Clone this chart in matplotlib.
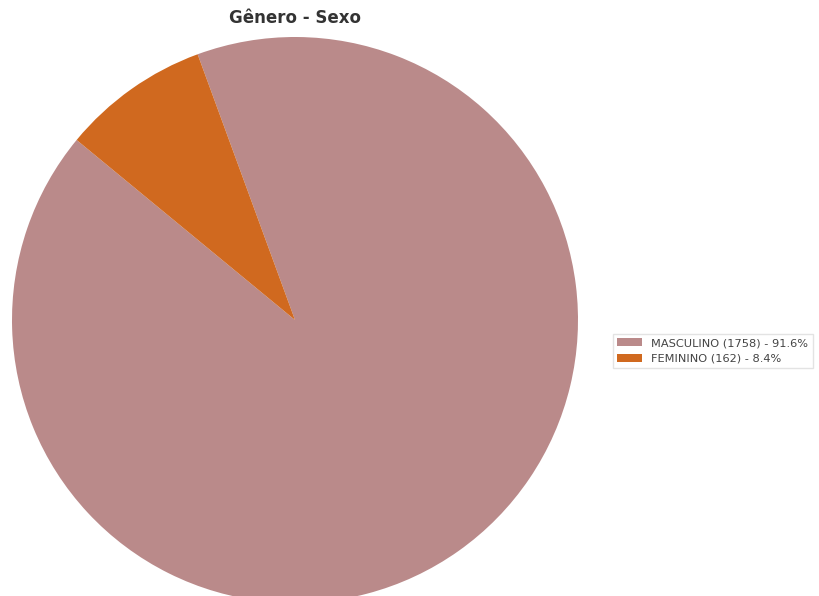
import matplotlib.pyplot as plt

labels = ['MASCULINO', 'FEMININO']
counts = [1758, 162]
colors = ['#ba8a8a', '#d0691f']

total = sum(counts)
legend_labels = [f'{l} ({c}) - {c / total * 100:.1f}%' for l, c in zip(labels, counts)]

fig = plt.figure(figsize=(8.2, 5.96), dpi=100)
ax = fig.add_axes([12 / 820, -7 / 596, 566 / 820, 566 / 596])

wedges, _ = ax.pie(counts, colors=colors, startangle=140.5, radius=1,
                   wedgeprops={'linewidth': 0})
ax.set_xlim(-1, 1)
ax.set_ylim(-1, 1)
ax.set_aspect('equal')

fig.text(295 / 820, 1 - 18 / 596, 'Gênero - Sexo', ha='center', va='center',
         fontsize=12, fontweight='bold', color='#333333')

fig.legend(wedges, legend_labels, loc='center left',
           bbox_to_anchor=(607 / 820, 1 - 351 / 596), fontsize=8.2,
           frameon=True, fancybox=False, edgecolor='#dddddd',
           labelcolor='#444444', handlelength=2.2)

fig.savefig('out.png', dpi=100)
